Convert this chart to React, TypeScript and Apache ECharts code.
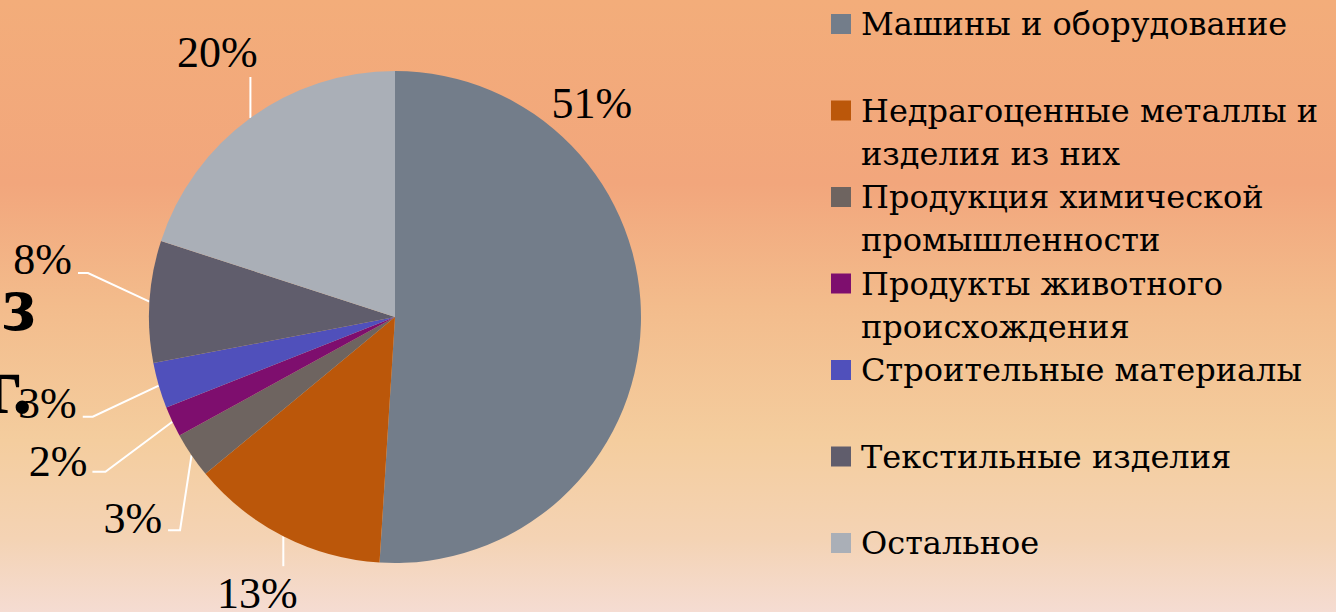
import React, { useEffect, useRef } from "react";
import * as echarts from "echarts";

const categories = [
  "Машины и оборудование",
  "Недрагоценные металлы и изделия из них",
  "Продукция химической промышленности",
  "Продукты животного происхождения",
  "Строительные материалы",
  "Текстильные изделия",
  "Остальное",
];
const legendLines = [
  ["Машины и оборудование"],
  ["Недрагоценные металлы и", "изделия из них"],
  ["Продукция химической", "промышленности"],
  ["Продукты животного", "происхождения"],
  ["Строительные материалы"],
  ["Текстильные изделия"],
  ["Остальное"],
];
const shares = [51, 13, 3, 2, 3, 8, 20];
const colors = ["#737D8A", "#BB570A", "#6E6460", "#7E0E6E", "#5050BB", "#605D6C", "#AAAFB7"];

// geometry / styling (not data)
const CX = 395;
const CY = 317;
const R = 246;
const LABEL_FONT = "Liberation Serif";
const LEGEND_FONT = "DejaVu Serif";

// per-label leader geometry, relative to the slice's outer mid point
type Geo = { bend: [number, number]; end: number; lx: number; ly: number; align: string; line: boolean };
const LABEL_GEO: Geo[] = [
  { bend: [0, 0], end: 0, lx: -49, ly: -221, align: "center", line: false },
  { bend: [0, 30], end: 0, lx: -26, ly: 27, align: "center", line: true },
  { bend: [-11.5, 75], end: -12, lx: -6, ly: -12, align: "right", line: true },
  { bend: [-67, 50], end: -13, lx: -5, ly: -10, align: "right", line: true },
  { bend: [-66, 31], end: -10, lx: -6, ly: -13, align: "right", line: true },
  { bend: [-61.5, -28.5], end: -10, lx: -6, ly: -14, align: "right", line: true },
  { bend: [0, -41], end: 0, lx: -33, ly: -24, align: "center", line: true },
];

function edgePoint(i: number): [number, number] {
  const total = shares.reduce((a, b) => a + b, 0);
  let cum = 0;
  for (let k = 0; k < i; k++) cum += shares[k];
  const theta = ((cum + shares[i] / 2) / total) * Math.PI * 2;
  return [CX + R * Math.sin(theta), CY - R * Math.cos(theta)];
}

export default function App() {
  const ref = useRef<HTMLDivElement>(null);
  useEffect(() => {
    if (!ref.current) return;
    const chart = echarts.init(ref.current, undefined, { renderer: "svg" });
    const iconCenters = categories.map((_, i) => 24 + i * 86.5);
    const option: any = {
      animation: false,
      backgroundColor: "transparent",
      legend: legendLines.map((lines, i) => ({
        data: [categories[i]],
        orient: "vertical",
        left: 831,
        top: iconCenters[i] - (lines.length > 1 ? 64.5 : 21.5),
        padding: 0,
        itemWidth: 20,
        itemHeight: 20,
        icon: "rect",
        selectedMode: false,
        formatter: () => (lines.length > 1 ? [" ", ...lines].join("\n") : lines[0]),
        textStyle: {
          fontFamily: LEGEND_FONT,
          fontSize: 32,
          color: "#000",
          lineHeight: 43,
          padding: [0, 0, 0, 5],
        },
      })),
      graphic: [
        {
          type: "text",
          z: 100,
          style: { text: "з", x: 3, y: 303, font: 'bold 80px "Liberation Serif"', fill: "#000", verticalAlign: "middle" },
        },
        {
          type: "text",
          z: 100,
          style: { text: "г.", x: -16, y: 385, font: 'bold 82px "Liberation Serif"', fill: "#000", verticalAlign: "middle" },
        },
      ],
      series: [
        {
          type: "pie",
          center: [CX, CY],
          radius: R,
          startAngle: 90,
          clockwise: true,
          avoidLabelOverlap: false,
          emphasis: { disabled: true },
          itemStyle: { borderWidth: 0 },
          data: categories.map((name, i) => ({
            name,
            value: shares[i],
            itemStyle: { color: colors[i] },
            labelLine: { show: LABEL_GEO[i].line },
          })),
          label: {
            show: true,
            position: "outside",
            formatter: "{c}%",
            fontFamily: LABEL_FONT,
            fontSize: 44,
            color: "#000",
          },
          labelLine: { show: true, length: 10, length2: 10, lineStyle: { color: "#fff", width: 2 } },
          labelLayout: (params: any) => {
            const i = params.dataIndex;
            const g = LABEL_GEO[i];
            const [ex, ey] = edgePoint(i);
            const b: [number, number] = [ex + g.bend[0], ey + g.bend[1]];
            const e: [number, number] = [b[0] + g.end, b[1]];
            return {
              x: e[0] + g.lx,
              y: e[1] + g.ly,
              align: g.align,
              verticalAlign: "middle",
              labelLinePoints: [[ex, ey], b, e],
            };
          },
        },
      ],
    };
    chart.setOption(option);
    return () => chart.dispose();
  }, []);
  return (
    <div
      ref={ref}
      style={{
        position: "fixed",
        left: 0,
        top: 0,
        width: 1336,
        height: 612,
        background:
          "linear-gradient(180deg, #F3AD7A 0%, #F2A67C 30%, #F3BC8C 50%, #F4CD9E 72%, #F4D3B4 88%, #F5DCD2 100%)",
      }}
    />
  );
}
